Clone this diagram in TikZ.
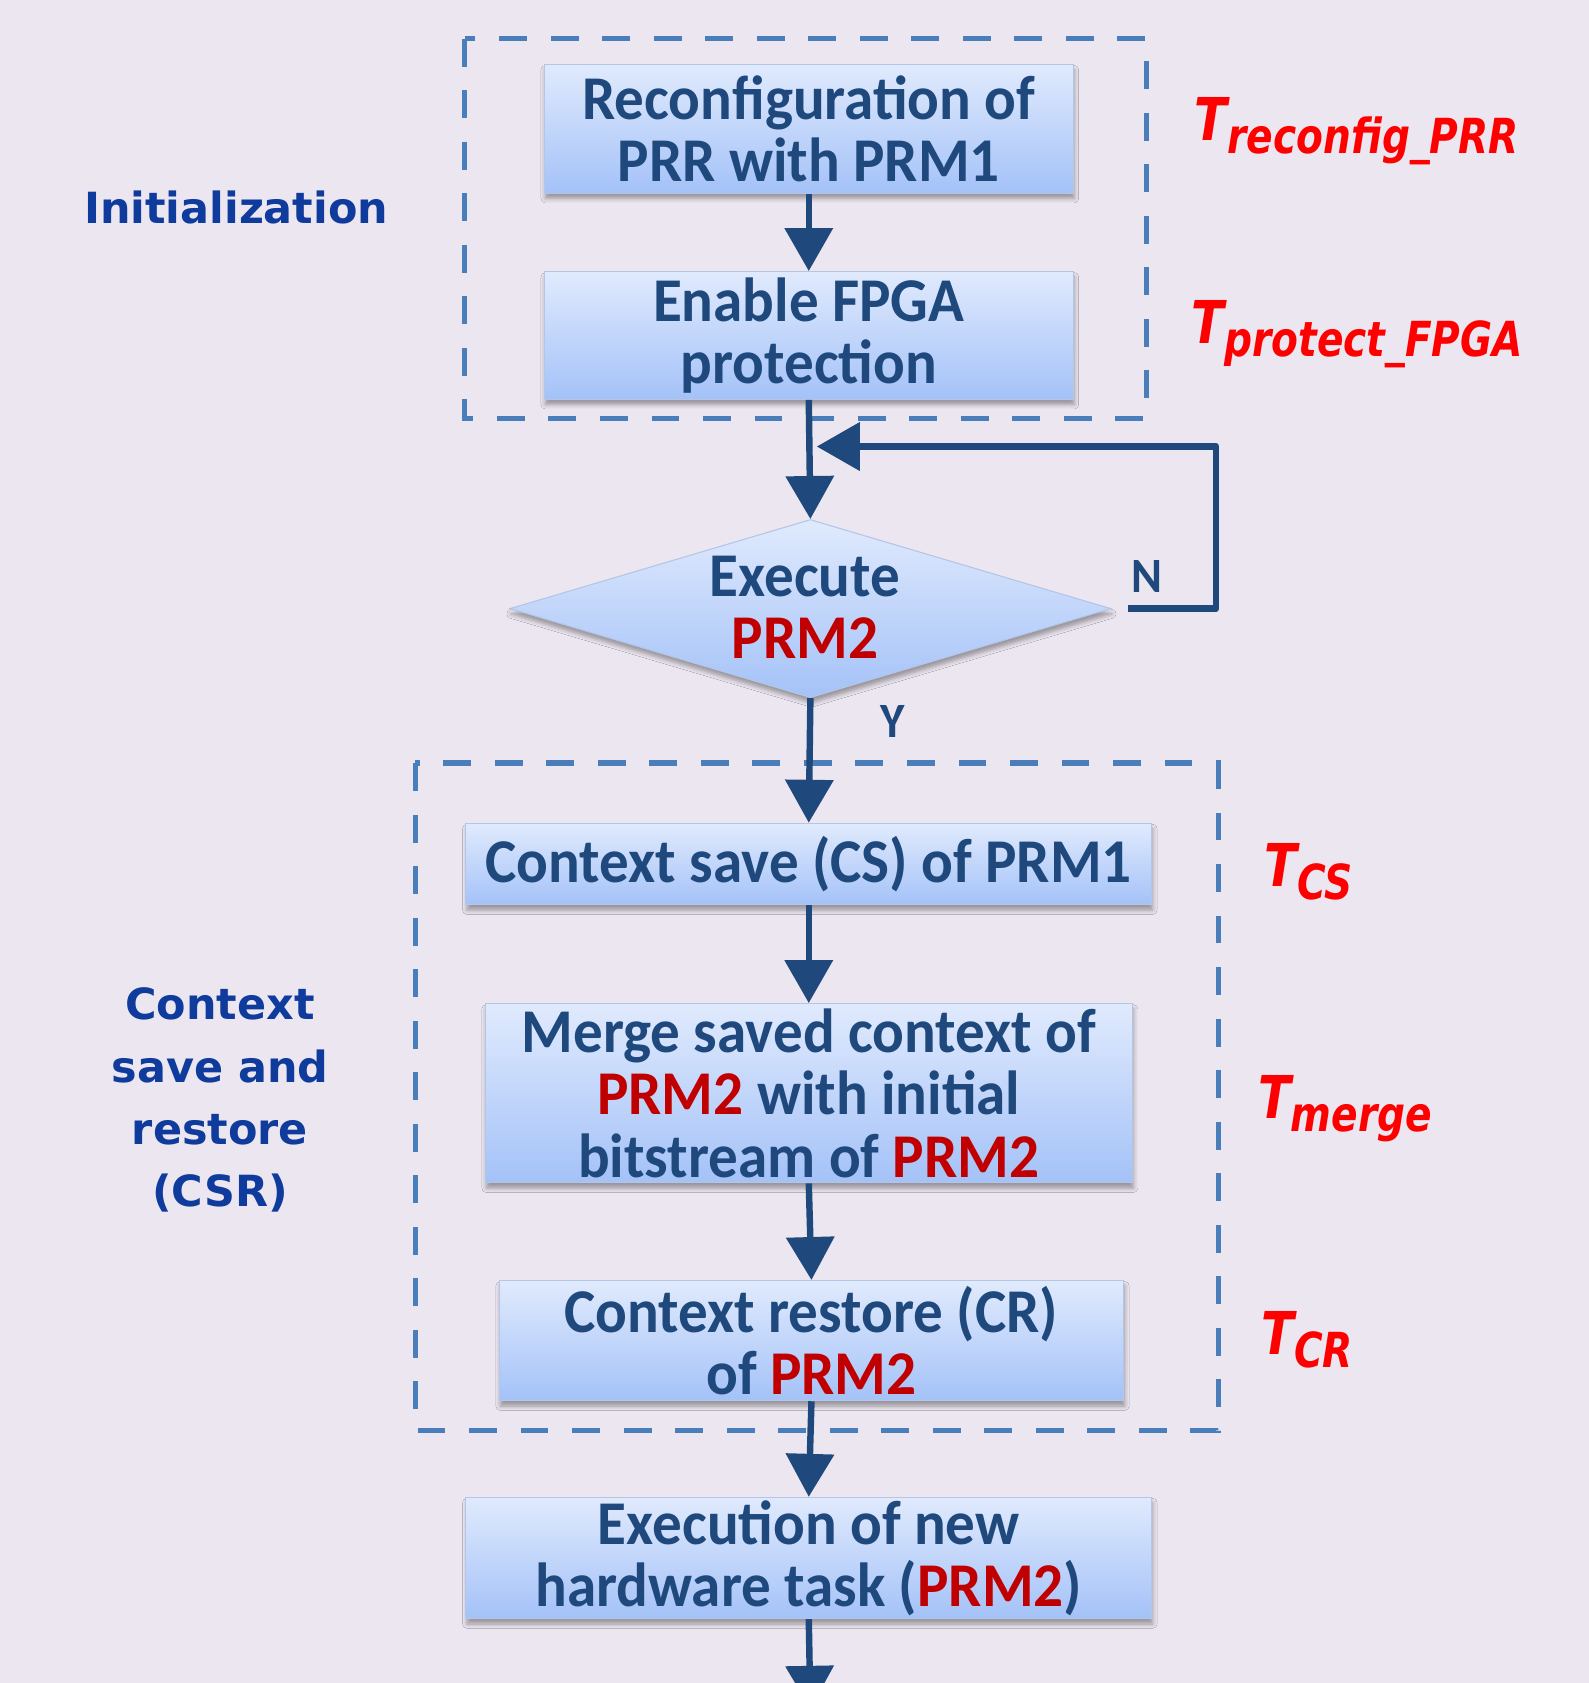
\documentclass[tikz,border=0pt]{standalone}
\usepackage{fontspec}
\setmainfont{Carlito}[FakeStretch=0.95]
\newfontfamily\tfont{DejaVu Sans}[FakeStretch=0.81,BoldItalicFont={DejaVu Sans Bold Oblique}]
\newfontfamily\lfont{DejaVu Sans}
\usetikzlibrary{arrows.meta,shapes.geometric,shadows.blur}
\definecolor{bgcol}{HTML}{ECE6F0}
\definecolor{boxtop}{HTML}{E0EAFD}
\definecolor{boxbot}{HTML}{A4C2F8}
\definecolor{boxline}{HTML}{B4C6E6}
\definecolor{txtblue}{HTML}{1F497D}
\definecolor{arrblue}{HTML}{1F497D}
\definecolor{dashblue}{HTML}{4A7EBB}
\definecolor{prmred}{HTML}{C00000}
\definecolor{tred}{HTML}{FF0000}
\definecolor{lblue}{HTML}{0E3B9C}
\newcommand{\prm}{\textcolor{prmred}{PRM2}}
\newcommand{\tl}[1]{T\raisebox{-12pt}{\fontsize{45}{45}\selectfont #1}}
\begin{document}
\begin{tikzpicture}[x=1pt,y=1pt,
  procbox/.style={draw=boxline,line width=1pt,top color=boxtop,bottom color=boxbot,
    inner sep=0pt,align=center,text=txtblue,
    font=\fontsize{58}{58}\selectfont\bfseries,
    blur shadow={shadow xshift=1pt,shadow yshift=-5pt,shadow blur radius=4pt,shadow opacity=35}},
  flow/.style={draw=arrblue,line width=6pt,-{Triangle[length=40pt,width=44pt]}},
  dbox/.style={draw=dashblue,line width=5pt,dash pattern=on 26pt off 22pt},
  tlab/.style={anchor=base west,text=tred,inner sep=0pt,font=\tfont\fontsize{55}{55}\selectfont\bfseries\itshape},
  llab/.style={align=center,text=lblue,inner sep=0pt,font=\lfont\fontsize{40}{58}\selectfont\bfseries},
  yn/.style={text=txtblue,inner sep=0pt,font=\fontsize{46}{46}\selectfont\bfseries}]
\fill[bgcol] (0,0) rectangle (1480,-1568);
\useasboundingbox (0,0) rectangle (1480,-1568);

% dashed groups
\draw[dbox] (433,-36) rectangle (1068,-390);
\draw[dbox] (387,-711) rectangle (1135,-1333);

% boxes
\node[procbox,minimum width=493pt,minimum height=120pt] (b1) at (753.5,-120) {Reconfiguration of\\PRR with PRM1};
\node[procbox,minimum width=493pt,minimum height=119pt] (b2) at (753.5,-312.5) {Enable FPGA\\protection};
\node[diamond,draw=boxline,line width=1pt,top color=boxtop,bottom color=boxbot,aspect=3.37,
  minimum width=560pt,minimum height=166pt,inner sep=0pt,
  blur shadow={shadow xshift=1pt,shadow yshift=-5pt,shadow blur radius=4pt,shadow opacity=35}] (d) at (755,-567) {};
\node[align=center,text=txtblue,inner sep=0pt,font=\fontsize{58}{58}\selectfont\bfseries] (dt) at (750,-566) {Execute\\\prm};
\node[procbox,minimum width=639pt,minimum height=76pt] (b3) at (753.5,-805) {Context save (CS) of PRM1};
\node[procbox,minimum width=603pt,minimum height=167pt] (b4) at (753.5,-1018.5) {Merge saved context of\\\prm{} with initial\\bitstream of \prm};
\node[procbox,minimum width=582pt,minimum height=112pt] (b5) at (756,-1249) {Context restore (CR)\\of \prm};
\node[procbox,minimum width=639pt,minimum height=113pt] (b6) at (753.5,-1451.5) {Execution of new\\hardware task (\prm)};

% connectors
\draw[flow] (b1.south) -- (b2.north);
\draw[flow] (b2.south) -- (d.north);
\draw[flow] (d.south) -- (b3.north);
\draw[flow] (b3.south) -- (b4.north);
\draw[flow] (b4.south) -- (b5.north);
\draw[flow] (b5.south) -- (b6.north);
\coordinate (endc) at (755,-1592);
\draw[flow] (b6.south) -- (endc);
\coordinate (nstart) at (1051,-567);
\coordinate (fb) at (761,-416);
\draw[flow,line join=round] (nstart) -- (1133,-567) -- (1133,-416) -- (fb);

% Y / N
\node[yn] (nlab) at (1069,-537) {N};
\node[yn] (ylab) at (832,-672) {Y};

% left labels
\node[llab] (init) at (220,-193) {Initialization};
\node[llab] (csr) at (205,-1025) {Context\\save and\\restore\\(CSR)};

% timing labels
\node[tlab] (t1) at (1113,-131) {\tl{reconfig\_PRR}};
\node[tlab] (t2) at (1110,-320) {\tl{protect\_FPGA}};
\node[tlab] (t3) at (1178,-826) {\tl{CS}};
\node[tlab] (t4) at (1172,-1042) {\tl{merge}};
\node[tlab] (t5) at (1175,-1262) {\tl{CR}};
\end{tikzpicture}
\end{document}
